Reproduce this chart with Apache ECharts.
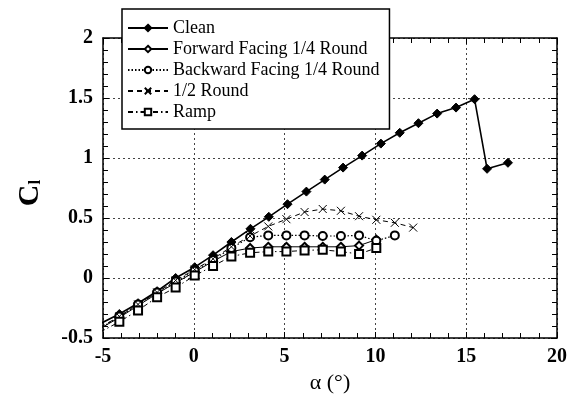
<!DOCTYPE html>
<html>
<head>
<meta charset="utf-8">
<script src="https://cdn.jsdelivr.net/npm/echarts@6/dist/echarts.min.js"></script>
<style>
html,body{margin:0;padding:0;background:#fff;}
#chart{width:579px;height:399px;}
</style>
</head>
<body>
<div id="chart"></div>
<script>
// ---- data ----
var seriesNames = ['Clean', 'Forward Facing 1/4 Round', 'Backward Facing 1/4 Round', '1/2 Round', 'Ramp'];
var alphaClean = [-5.15, -4.1, -3.07, -2.02, -1.0, 0.05, 1.06, 2.07, 3.12, 4.13, 5.16, 6.2, 7.21, 8.22, 9.27, 10.3, 11.34, 12.37, 13.4, 14.44, 15.46, 16.15, 17.3];
var clClean = [-0.38, -0.30, -0.21, -0.11, 0.0, 0.09, 0.19, 0.30, 0.41, 0.51, 0.615, 0.72, 0.82, 0.92, 1.02, 1.12, 1.21, 1.29, 1.37, 1.42, 1.49, 0.91, 0.96];
var alphaTrip = [-5.15, -4.1, -3.07, -2.02, -1.0, 0.05, 1.06, 2.07, 3.1, 4.1, 5.1, 6.1, 7.1, 8.1, 9.1, 10.05, 11.07, 12.08];
var clForward = [-0.42, -0.33, -0.23, -0.13, -0.04, 0.05, 0.14, 0.22, 0.25, 0.26, 0.26, 0.26, 0.26, 0.26, 0.27, 0.32];
var clBackward = [-0.42, -0.32, -0.22, -0.12, -0.03, 0.06, 0.15, 0.25, 0.34, 0.355, 0.355, 0.355, 0.35, 0.35, 0.355, 0.31, 0.355];
var clHalf = [-0.41, -0.32, -0.22, -0.12, -0.02, 0.07, 0.16, 0.26, 0.35, 0.43, 0.49, 0.55, 0.575, 0.56, 0.515, 0.485, 0.46, 0.42];
var clRamp = [-0.45, -0.365, -0.27, -0.16, -0.08, 0.02, 0.10, 0.18, 0.21, 0.22, 0.22, 0.23, 0.235, 0.22, 0.20, 0.25];
var xTicks = [-5, 0, 5, 10, 15, 20];
var yTicks = [-0.5, 0, 0.5, 1, 1.5, 2];

function pairs(xs, ys) {
  var out = [];
  for (var i = 0; i < ys.length; i++) out.push([xs[i], ys[i]]);
  return out;
}

var serif = '"Liberation Serif", "DejaVu Serif", serif';
var chart = echarts.init(document.getElementById('chart'), null, {renderer: 'canvas'});

var frameLine = {show: true, onZero: false, lineStyle: {color: '#000', width: 1.5}};
var grid = {show: true, type: [2, 3], color: '#444', width: 1};

function baseX(pos, labels) {
  return {
    type: 'value', position: pos, min: xTicks[0], max: xTicks[xTicks.length - 1], interval: 5,
    axisLine: frameLine,
    axisTick: {show: true, inside: true, length: 6, lineStyle: {color: '#000'}},
    minorTick: {show: true, splitNumber: 5, length: 5, lineStyle: {color: '#000'}},
    splitLine: labels ? {show: true, lineStyle: grid} : {show: false},
    axisLabel: labels ? {show: true, fontFamily: serif, fontWeight: 'bold', fontSize: 20, color: '#000', margin: 9} : {show: false}
  };
}
function baseY(pos, labels) {
  return {
    type: 'value', position: pos, min: yTicks[0], max: yTicks[yTicks.length - 1], interval: 0.5,
    axisLine: frameLine,
    axisTick: {show: true, inside: true, length: 6, lineStyle: {color: '#000'}},
    minorTick: {show: true, splitNumber: 5, length: 5, lineStyle: {color: '#000'}},
    splitLine: labels ? {show: true, lineStyle: grid} : {show: false},
    axisLabel: labels ? {show: true, fontFamily: serif, fontWeight: 'bold', fontSize: 20, color: '#000', margin: 10} : {show: false}
  };
}

var xMain = baseX('bottom', true);
xMain.name = 'α (°)';
xMain.nameLocation = 'middle';
xMain.nameGap = 34;
xMain.nameTextStyle = {fontFamily: serif, fontSize: 22, color: '#000'};

var yMain = baseY('left', true);
yMain.name = '{c|C}{s|l}';
yMain.nameLocation = 'middle';
yMain.nameRotate = 90;
yMain.nameGap = 58;
yMain.nameTextStyle = {
  color: '#000',
  padding: [0, 10, 0, 0],
  rich: {
    c: {fontFamily: serif, fontWeight: 'bold', fontSize: 30, color: '#000'},
    s: {fontFamily: serif, fontWeight: 'bold', fontSize: 17, color: '#000', padding: [12, 0, 0, 0]}
  }
};

var xTop = baseX('top', false);
var yRight = baseY('right', false);

function mk(name, data, symbol, size, lineStyle, itemStyle) {
  return {
    name: name, type: 'line', xAxisIndex: 0, yAxisIndex: 0, data: data,
    symbol: symbol, symbolSize: size, showSymbol: true, clip: true,
    lineStyle: lineStyle, itemStyle: itemStyle, animation: false, z: 3
  };
}

var option = {
  animation: false,
  backgroundColor: '#fff',
  grid: {left: 103, right: 22, top: 38, bottom: 56, containLabel: false},
  xAxis: [xMain, xTop],
  yAxis: [yMain, yRight],
  legend: {
    show: true, orient: 'vertical', left: 122, top: 9,
    backgroundColor: '#fff', borderColor: '#000', borderWidth: 1.5, borderRadius: 0,
    padding: [10, 10, 8, 5],
    itemWidth: 40, itemHeight: 8, itemGap: 3,
    textStyle: {fontFamily: serif, fontSize: 18, color: '#000', lineHeight: 18},
    data: seriesNames, z: 10
  },
  series: [
    mk(seriesNames[0], pairs(alphaClean, clClean), 'diamond', 9,
       {color: '#000', width: 1.6, type: 'solid'}, {color: '#000', borderColor: '#000', borderWidth: 1}),
    mk(seriesNames[1], pairs(alphaTrip, clForward), 'emptyDiamond', 8,
       {color: '#000', width: 1, type: 'solid'}, {color: '#000', borderColor: '#000', borderWidth: 1}),
    mk(seriesNames[2], pairs(alphaTrip, clBackward), 'emptyCircle', 8,
       {color: '#000', width: 1.2, type: [1.5, 2]}, {color: '#000', borderColor: '#000', borderWidth: 1}),
    mk(seriesNames[3], pairs(alphaTrip, clHalf), 'path://M0,0L10,10M10,0L0,10', 8,
       {color: '#000', width: 1, type: [5, 4]}, {color: '#000', borderColor: '#000', borderWidth: 1}),
    mk(seriesNames[4], pairs(alphaTrip, clRamp), 'emptyRect', 8,
       {color: '#000', width: 1, type: [5, 3, 1.5, 3]}, {color: '#000', borderColor: '#000', borderWidth: 1})
  ]
};
chart.setOption(option);
</script>
</body>
</html>
